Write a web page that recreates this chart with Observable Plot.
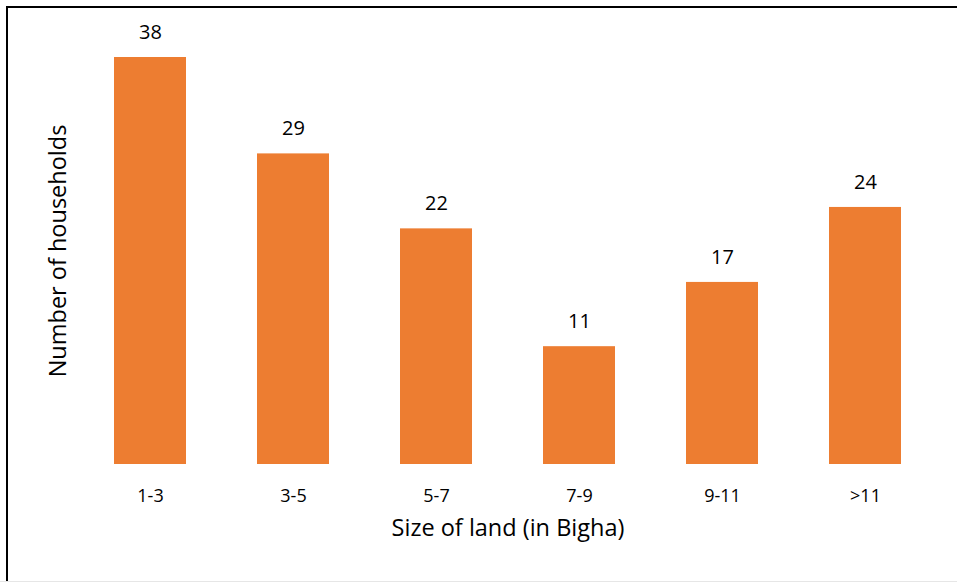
<!DOCTYPE html>
<html>
<head>
<meta charset="utf-8">
<script src="https://cdn.jsdelivr.net/npm/d3@7"></script>
<script src="https://cdn.jsdelivr.net/npm/@observablehq/plot@0.6"></script>
<style>
  html, body { margin: 0; padding: 0; background: #fff; }
  #wrap { position: relative; width: 957px; height: 582px; overflow: hidden; }
  #frame { position: absolute; left: 6px; top: 6px; width: 960px; height: 600px;
           border-top: 2px solid #000; border-left: 2px solid #000; box-sizing: border-box; pointer-events: none; }
  #bottomline { position: absolute; left: 0; top: 581px; width: 957px; height: 1px; background: #e6e6e6; }
  #chart { position: absolute; left: 0; top: 0; }
</style>
</head>
<body>
<div id="wrap">
  <div id="chart"></div>
  <div id="frame"></div>
  <div id="bottomline"></div>
</div>
<script>
const categories = ["1-3", "3-5", "5-7", "7-9", "9-11", ">11"];
const households = [38, 29, 22, 11, 17, 24];
const xTitle = "Size of land (in Bigha)";
const yTitle = "Number of households";

const data = categories.map((c, i) => ({cat: c, value: households[i]}));
const font = "'Open Sans', 'Noto Sans', sans-serif";

const chart = Plot.plot({
  width: 957,
  height: 582,
  marginLeft: 77,
  marginRight: 19,
  marginTop: 57,
  marginBottom: 118,
  style: {fontFamily: font, background: "transparent", color: "#000"},
  x: {domain: categories, paddingInner: 0.5, paddingOuter: 0.25, axis: null},
  y: {domain: [0, 38], axis: null},
  marks: [
    Plot.barY(data, {x: "cat", y: "value", fill: "#ED7D31"}),
    Plot.text(data, {x: "cat", y: "value", text: d => String(d.value), dy: -25, fontSize: 20, fill: "#000"}),
    Plot.axisX({tickSize: 0, tickPadding: 25, fontSize: 18, label: null, fill: "#000"}),
    Plot.text([xTitle], {frameAnchor: "bottom", dy: 71, fontSize: 23.5, fill: "#000", text: d => d}),
    Plot.text([yTitle], {frameAnchor: "left", textAnchor: "middle", dx: -19, dy: -10, rotate: -90, fontSize: 23.5, fill: "#000", text: d => d})
  ]
});
document.getElementById("chart").appendChild(chart);
</script>
</body>
</html>
